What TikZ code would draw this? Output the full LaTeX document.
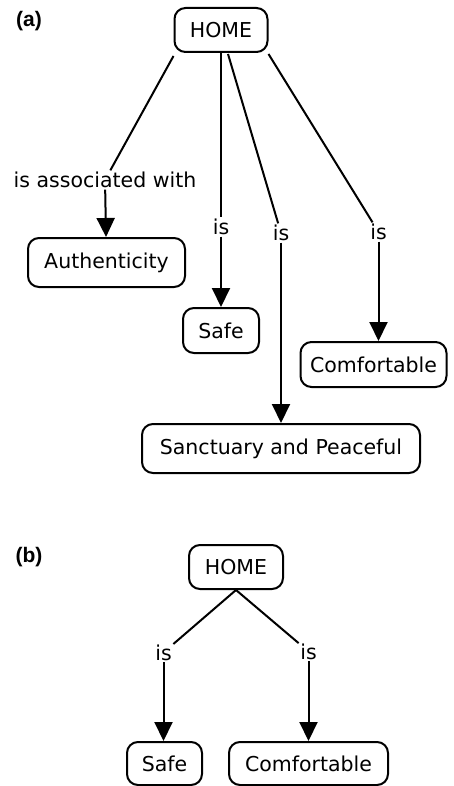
\documentclass[tikz,border=0pt]{standalone}
\usepackage{fontspec}
\setmainfont{DejaVu Sans}
\newfontfamily\panelfont{Liberation Sans}
\usetikzlibrary{arrows.meta}
\tikzset{
  concept/.style={draw=black, line width=2pt, rounded corners=11pt, fill=white,
    inner sep=0pt, font=\fontsize{20.5}{24}\selectfont, align=center},
  linklabel/.style={inner sep=1.5pt, font=\fontsize{20.5}{24}\selectfont},
  panel/.style={inner sep=0pt, font=\panelfont\bfseries\fontsize{21}{24}\selectfont},
  conn/.style={draw=black, line width=2pt},
  arr/.style={conn, -{Triangle[width=18pt,length=19pt]}},
}
\begin{document}
\begin{tikzpicture}[x=1pt,y=-1pt]
\useasboundingbox[fill=white] (0,0) rectangle (453,786);

% ---------- panel (a) ----------
\node[panel] (pa) at (29,21) {(a)};
\node[concept, minimum width=93pt, minimum height=44pt] (home) at (221,30) {HOME};
\node[concept, minimum width=157pt, minimum height=49pt] (auth) at (106.5,262.5) {Authenticity};
\node[concept, minimum width=76pt, minimum height=45pt] (safe) at (221,330.5) {Safe};
\node[concept, minimum width=278pt, minimum height=49pt] (sanc) at (281,448.5) {Sanctuary and Peaceful};
\node[concept, minimum width=146pt, minimum height=45pt] (comf) at (373.5,364.5) {Comfortable};

\node[linklabel] (l1) at (105,180) {is associated with};
\node[linklabel] (l2) at (221,227) {is};
\node[linklabel] (l3) at (281,233) {is};
\node[linklabel] (l4) at (378.5,232) {is};

\draw[conn] ([yshift=-3pt]home.south west) -- (l1);
\draw[arr] (l1) -- (auth);
\draw[conn] (home.south) -- (l2);
\draw[arr] (l2) -- (safe);
\draw[conn] ([xshift=7pt,yshift=-1pt]home.south) -- (l3);
\draw[arr] (l3) -- (l3 |- sanc.north);
\draw[conn] ([yshift=-1pt]home.south east) -- (l4);
\draw[arr] (l4) -- (l4 |- comf.north);

% ---------- panel (b) ----------
\node[panel] (pb) at (29,557) {(b)};
\node[concept, minimum width=94pt, minimum height=44pt] (homeb) at (236,567) {HOME};
\node[concept, minimum width=75pt, minimum height=43pt] (safeb) at (164.5,763.5) {Safe};
\node[concept, minimum width=159pt, minimum height=43pt] (comfb) at (308.5,763.5) {Comfortable};

\node[linklabel] (l5) at (163.5,652.5) {is};
\node[linklabel] (l6) at (308.5,651.5) {is};

\draw[conn] (homeb.south) -- (l5);
\draw[arr] (l5) -- (l5 |- safeb.north);
\draw[conn] (homeb.south) -- (l6);
\draw[arr] (l6) -- (l6 |- comfb.north);
\end{tikzpicture}
\end{document}
